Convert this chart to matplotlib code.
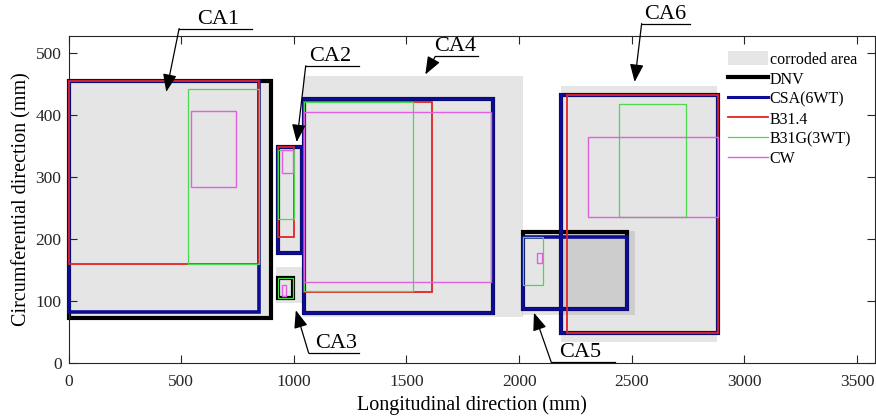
import matplotlib
matplotlib.use("Agg")
import matplotlib.pyplot as plt
from matplotlib.patches import Rectangle, Patch
from matplotlib.lines import Line2D

plt.rcParams['font.family'] = ['Liberation Serif', 'DejaVu Serif']

# ---- data: rectangles (x0, x1, y0, y1) in mm, one per corroded area CA1..CA6 ----
area_names = ['CA1', 'CA2', 'CA3', 'CA4', 'CA5', 'CA6']
corroded = [(0, 899, 73, 458), (922, 1040, 175, 352), (922, 1036, 97, 155),
            (1041, 2017, 74, 463), (2013, 2514, 77, 213), (2186, 2878, 34, 447)]
dnv = [(0, 899, 73, 455), (930, 1036, 177, 348), (930, 997, 105, 137),
       (1045, 1884, 81, 426), (2017, 2479, 87, 211), (2186, 2883, 48, 432)]
csa = [(0, 846, 82, 455), (930, 1036, 177, 348), None,
       (1045, 1884, 81, 426), (2017, 2479, 87, 203), (2186, 2883, 48, 432)]
b314 = [(0, 846, 160, 455), (930, 1001, 203, 348), None,
        (1045, 1613, 114, 421), None, (2213, 2883, 48, 432)]
b31g = [(530, 846, 160, 442), (930, 1001, 232, 343), (930, 997, 105, 137),
        (1045, 1529, 116, 421), (2017, 2106, 126, 203), (2443, 2741, 235, 418)]
cw = [(544, 743, 284, 406), (948, 997, 306, 343), (948, 965, 108, 126),
      (1045, 1875, 131, 405), (2079, 2103, 161, 177), (2306, 2883, 235, 365)]

x_ticks = [0, 500, 1000, 1500, 2000, 2500, 3000, 3500]
y_ticks = [0, 100, 200, 300, 400, 500]

# annotation layout: label, text x, underline start/end x, underline y, arrow tip (x, y)
annotations = [
    ('CA1', 664, 491, 814, 539, (434, 437)),
    ('CA2', 1160, 1053, 1288, 479, (1013, 356)),
    ('CA4', 1717, 1628, 1819, 494, (1584, 465)),
    ('CA6', 2650, 2544, 2757, 547, (2513, 453)),
    ('CA3', 1190, 1066, 1288, 16, (1009, 85)),
    ('CA5', 2270, 2142, 2425, 2, (2066, 81)),
]

fig = plt.figure(figsize=(8.76, 4.17), dpi=100)
ax = fig.add_axes([0.0782, 0.1295, 0.9207, 0.7842])

def draw(rects, **kw):
    for r in rects:
        if r is None:
            continue
        x0, x1, y0, y1 = r
        ax.add_patch(Rectangle((x0, y0), x1 - x0, y1 - y0, fill=False,
                               clip_on=False, **kw))

for (x0, x1, y0, y1) in corroded:
    ax.add_patch(Rectangle((x0, y0), x1 - x0, y1 - y0, facecolor='black',
                           alpha=0.1, edgecolor='none', zorder=1))

c_dnv, c_csa, c_b314, c_b31g, c_cw = 'black', '#0c0c96', '#e02424', '#4cd84c', '#e060e0'
draw(dnv, edgecolor=c_dnv, linewidth=3.0, zorder=2, joinstyle='miter')
draw(csa, edgecolor=c_csa, linewidth=2.6, zorder=3, joinstyle='miter')
draw(b314, edgecolor=c_b314, linewidth=1.3, zorder=4, joinstyle='miter')
draw(b31g, edgecolor=c_b31g, linewidth=0.9, zorder=5, joinstyle='miter')
draw(cw, edgecolor=c_cw, linewidth=1.0, zorder=6, joinstyle='miter')

ax.set_xlim(0, 3580)
ax.set_ylim(0, 527)
ax.set_xticks(x_ticks)
ax.set_yticks(y_ticks)
ax.tick_params(direction='in', top=True, right=True, length=5.5, width=0.8,
               labelsize=12.5, colors='#262626')
ax.tick_params(axis='x', pad=8)
ax.tick_params(axis='y', pad=5)
for s in ax.spines.values():
    s.set_color('#262626')
    s.set_linewidth(0.8)
ax.set_xlabel('Longitudinal direction (mm)', fontsize=14.5, labelpad=4)
ax.set_ylabel('Circumferential direction (mm)', fontsize=14.5, labelpad=3)

for label, tx, ux0, ux1, uy, tip in annotations:
    ax.plot([ux0, ux1], [uy, uy], color='black', lw=0.9, clip_on=False, zorder=10)
    ax.annotate('', xy=tip, xytext=(ux0, uy),
                arrowprops=dict(arrowstyle='-|>,head_length=0.9,head_width=0.35',
                                color='black', lw=0.9, shrinkA=0, shrinkB=0,
                                mutation_scale=12),
                annotation_clip=False, zorder=10)
    ax.text(tx, uy + 8, label, ha='center', va='baseline', fontsize=16,
            clip_on=False, zorder=10)

handles = [Patch(facecolor='#e6e6e6', edgecolor='none'),
           Line2D([], [], color=c_dnv, lw=3.0),
           Line2D([], [], color=c_csa, lw=2.2),
           Line2D([], [], color=c_b314, lw=1.3),
           Line2D([], [], color=c_b31g, lw=0.9),
           Line2D([], [], color=c_cw, lw=1.0)]
labels = ['corroded area', 'DNV', 'CSA(6WT)', 'B31.4', 'B31G(3WT)', 'CW']
ax.legend(handles, labels, loc='upper left', bbox_to_anchor=(728 / 876, 1 - 51 / 417),
          bbox_transform=fig.transFigure, frameon=False, fontsize=11.5,
          handlelength=2.5, handleheight=1.0, handletextpad=0.1,
          labelspacing=0.21, borderpad=0, borderaxespad=0)

fig.savefig('out.png', dpi=100)
